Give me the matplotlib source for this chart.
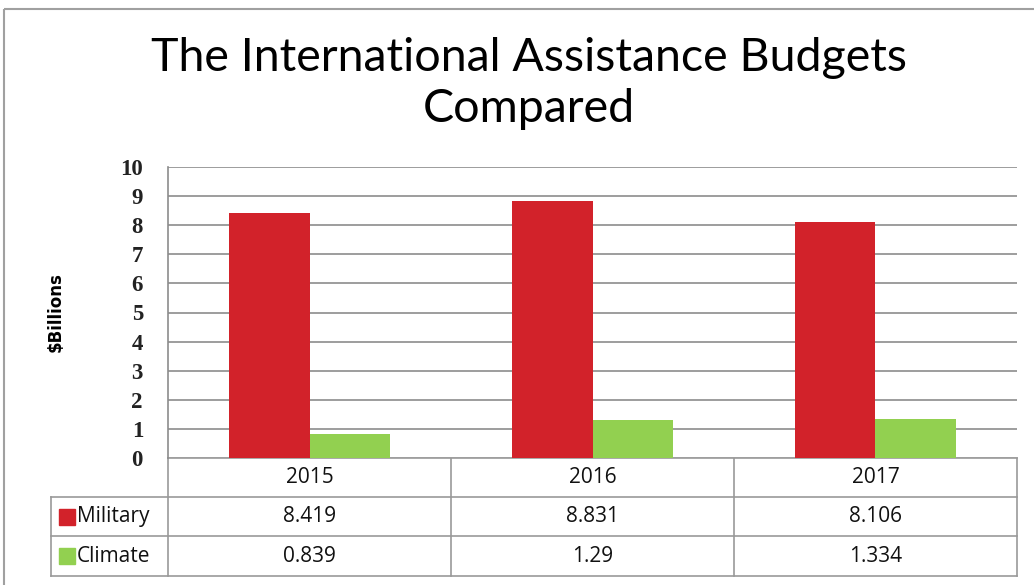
import matplotlib.pyplot as plt
from matplotlib.patches import Rectangle

years = ["2015", "2016", "2017"]
military = [8.419, 8.831, 8.106]
climate = [0.839, 1.29, 1.334]
military_labels = ["8.419", "8.831", "8.106"]
climate_labels = ["0.839", "1.29", "1.334"]
series_names = ["Military", "Climate"]
y_ticks = list(range(0, 11))

RED = "#D2222A"
GREEN = "#92D050"
GRID = "#8C8C8C"

W, H = 1034, 585
fig = plt.figure(figsize=(W / 100, H / 100), dpi=100)

# pixel-space overlay for frame, title and data table
over = fig.add_axes([0, 0, 1, 1])
over.set_xlim(0, W)
over.set_ylim(H, 0)
over.axis("off")
over.add_patch(Rectangle((4, 9), 1100, 700, fill=False, ec="#A0A0A0", lw=1.5))

over.text(529, 58, "The International Assistance Budgets", ha="center", va="center",
          fontsize=33.5, family="Lato")
over.text(529, 109, "Compared", ha="center", va="center", fontsize=33.5, family="Lato")

# plot area
left, right, top, bottom = 168, 1017, 167, 458
ax = fig.add_axes([left / W, 1 - bottom / H, (right - left) / W, (bottom - top) / H])
x = list(range(len(years)))
bw = 0.286
ax.bar([i - bw / 2 for i in x], military, width=bw, color=RED, zorder=3)
ax.bar([i + bw / 2 for i in x], climate, width=bw, color=GREEN, zorder=3)
ax.set_xlim(-0.5, len(years) - 0.5)
ax.set_ylim(0, 10)
ax.set_yticks(y_ticks)
ax.set_yticklabels([str(t) for t in y_ticks], family="Liberation Serif",
                   fontsize=16.5, fontweight="bold", color="#222222")
ax.tick_params(axis="y", length=0, pad=18)
ax.set_xticks([])
ax.grid(axis="y", color=GRID, lw=1.2, zorder=0)
for s in ["top", "right", "bottom"]:
    ax.spines[s].set_visible(False)
ax.spines["left"].set_color(GRID)
ax.spines["left"].set_linewidth(1.2)
ax.set_ylabel("$Billions", fontsize=12, fontweight="bold", family="DejaVu Sans",
              labelpad=40)

# data table
col_x = [left + (right - left) * k / 3 for k in range(4)]
row_y = [bottom, 497, 536, 576]
tab_left = 51
lc = "#999999"
for yy in row_y[1:]:
    over.plot([tab_left, right], [yy, yy], color=lc, lw=1.2)
over.plot([left, right], [row_y[0], row_y[0]], color=lc, lw=1.2)
over.plot([tab_left, tab_left], [row_y[1], row_y[3]], color=lc, lw=1.2)
for cx in col_x:
    over.plot([cx, cx], [row_y[0], row_y[3]], color=lc, lw=1.2)

tfont = dict(family="Open Sans", fontsize=15, color="#111111")
for k, yr in enumerate(years):
    cx = (col_x[k] + col_x[k + 1]) / 2
    over.text(cx, (row_y[0] + row_y[1]) / 2, yr, ha="center", va="center", **tfont)
    over.text(cx, (row_y[1] + row_y[2]) / 2, military_labels[k], ha="center", va="center", **tfont)
    over.text(cx, (row_y[2] + row_y[3]) / 2, climate_labels[k], ha="center", va="center", **tfont)

for r, (name, col) in enumerate(zip(series_names, [RED, GREEN])):
    cy = (row_y[r + 1] + row_y[r + 2]) / 2
    over.add_patch(Rectangle((59, cy - 8), 16, 16, color=col))
    over.text(77, cy, name, ha="left", va="center", **tfont)

fig.savefig("out.png", dpi=100)
